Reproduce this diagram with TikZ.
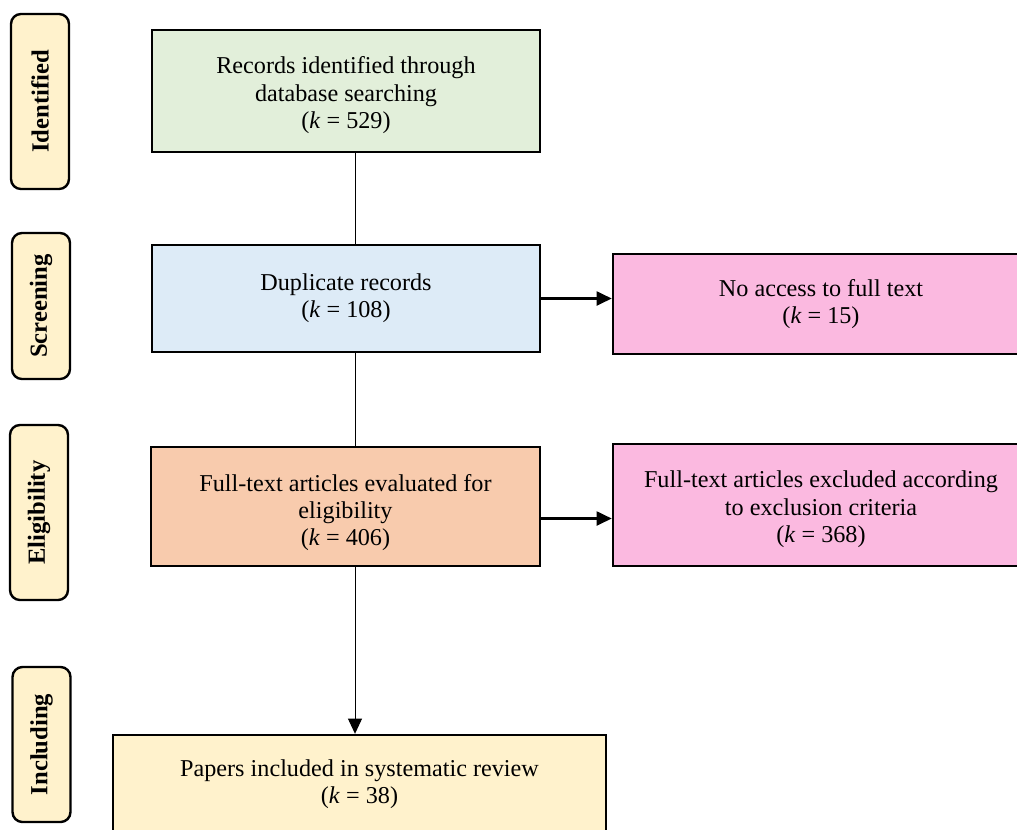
\documentclass[tikz,border=0pt]{standalone}
\usepackage{fontspec}
\setmainfont{Liberation Serif}
\usetikzlibrary{arrows.meta}

\definecolor{stagefill}{HTML}{FFF2CC}
\definecolor{identfill}{HTML}{E2EFDA}
\definecolor{screenfill}{HTML}{DDEBF7}
\definecolor{eligfill}{HTML}{F8CBAD}
\definecolor{exclfill}{HTML}{FBB9E0}
\newcommand{\topgap}{\rule{0pt}{0.63cm}}

\begin{document}
\begin{tikzpicture}[x=0.025cm,y=-0.025cm,>={Triangle[length=0.38cm,width=0.35cm]},
    stage/.style={draw,line width=1.7pt,rounded corners=0.25cm,fill=stagefill,rotate=90,
        minimum height=1.45cm,inner sep=0pt,font=\fontsize{17.5}{20}\selectfont\bfseries},
    box/.style={draw,line width=1.7pt,align=center,inner sep=0pt,
        font=\fontsize{17.2}{19.3}\selectfont},
    thin/.style={line width=0.7pt}]
    \useasboundingbox (0,0) rectangle (1017,829);
    \clip (0,0) rectangle (1017,829);
    % stages
    \node[stage,minimum width=4.375cm] (sid) at (40,101.5) {Identified};
    \node[stage,minimum width=3.65cm] (ssc) at (41,306) {Screening};
    \node[stage,minimum width=4.375cm] (sel) at (39,512.5) {Eligibility};
    \node[stage,minimum width=3.875cm] (sin) at (41.5,744.5) {Including};
    % boxes
    \node[box,fill=identfill,minimum width=9.7cm,minimum height=3.05cm] (rec) at (346,91)
        {\topgap Records identified through\\database searching\\(\textit{k} = 529)};
    \node[box,fill=screenfill,minimum width=9.7cm,minimum height=2.675cm] (dup) at (346,298.5)
        {Duplicate records\\(\textit{k} = 108)};
    \node[box,fill=eligfill,minimum width=9.725cm,minimum height=2.975cm] (elig) at (345.5,506.5)
        {\rule{0pt}{0.72cm}Full-text articles evaluated for\\eligibility\\(\textit{k} = 406)};
    \node[box,fill=stagefill,minimum width=12.325cm,minimum height=2.45cm] (incl) at (359.5,784)
        {Papers included in systematic review\\(\textit{k} = 38)};
    \node[box,fill=exclfill,minimum width=10.4cm,minimum height=2.5cm] (noacc) at (821,304)
        {No access to full text\\(\textit{k} = 15)};
    \node[box,fill=exclfill,minimum width=10.4cm,minimum height=3.05cm] (excl) at (821,505)
        {\topgap Full-text articles excluded according\\to exclusion criteria\\(\textit{k} = 368)};
    % connectors
    \coordinate (spine) at (355,0);
    \draw[thin] (rec.south -| spine) -- (dup.north -| spine);
    \draw[thin] (dup.south -| spine) -- (elig.north -| spine);
    \draw[thin,->] (elig.south -| spine) -- (incl.north -| spine);
    \draw[->,line width=1.7pt] (dup.east) -- (dup.east -| noacc.west);
    \draw[->,line width=1.7pt] ([yshift=-0.3cm]elig.east) -- ([yshift=-0.3cm]elig.east -| excl.west);
\end{tikzpicture}
\end{document}
